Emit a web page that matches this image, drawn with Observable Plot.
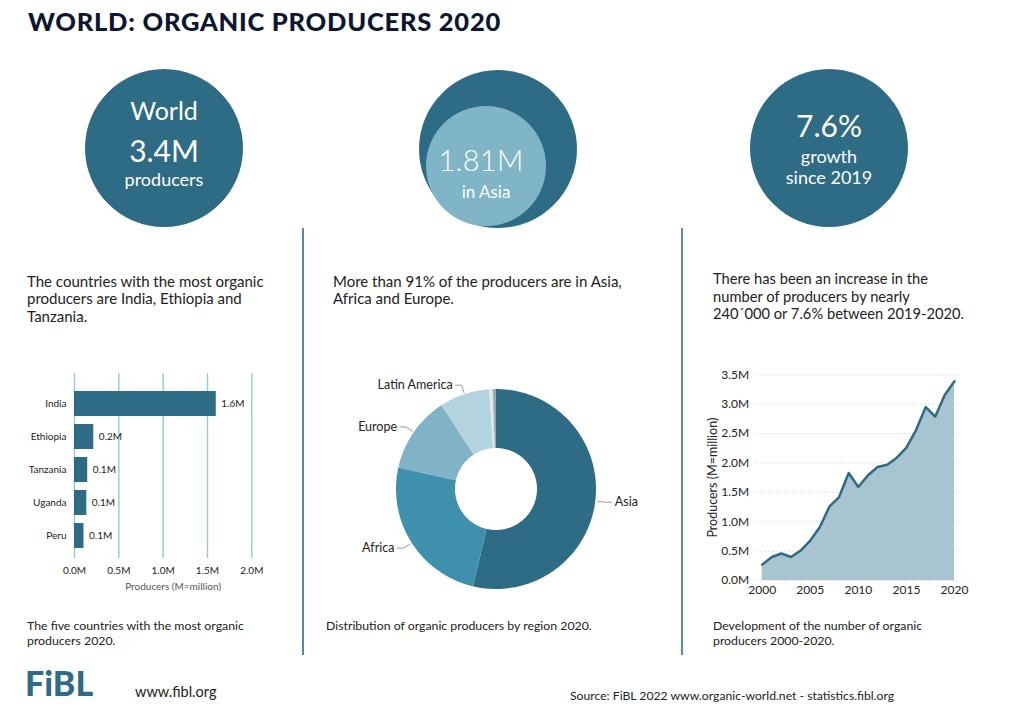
<!DOCTYPE html>
<html><head><meta charset="utf-8">
<script src="https://cdn.jsdelivr.net/npm/d3@7"></script>
<script src="https://cdn.jsdelivr.net/npm/@observablehq/plot@0.6"></script>
<style>
body{margin:0;background:#fff;}
#page{position:relative;width:1024px;height:718px;overflow:hidden;font-family:Lato,"Open Sans",sans-serif;color:#222;background:#fff;}
.t{position:absolute;white-space:nowrap;}
.circle{position:absolute;border-radius:50%;}
.vline{position:absolute;width:1.5px;background:#5b8a9e;}
.chart{position:absolute;}
.chart svg{overflow:visible;}
</style></head><body><div id="page"></div>
<script>
// ---------- data ----------
const countries = ["India", "Ethiopia", "Tanzania", "Uganda", "Peru"];
const countryProducers = [1.599, 0.218, 0.149, 0.139, 0.107]; // million
const countryLabels = ["1.6M", "0.2M", "0.1M", "0.1M", "0.1M"];
const barTicks = [0, 0.5, 1.0, 1.5, 2.0];

const regions = ["Asia", "Africa", "Europe", "Latin America", "Oceania", "Northern America"];
const regionProducers = [1.810, 0.834, 0.418, 0.272, 0.020, 0.017]; // million
const regionColors = ["#2e6b84", "#3f90ad", "#80b3c6", "#b3d3de", "#dbe8ed", "#98a6ad"];
const labeledRegions = ["Asia", "Africa", "Europe", "Latin America"];

const years = [2000, 2001, 2002, 2003, 2004, 2005, 2006, 2007, 2008, 2009, 2010,
               2011, 2012, 2013, 2014, 2015, 2016, 2017, 2018, 2019, 2020];
const worldProducers = [0.27, 0.40, 0.46, 0.40, 0.51, 0.68, 0.91, 1.26, 1.42, 1.83, 1.59,
                        1.79, 1.93, 1.97, 2.09, 2.26, 2.56, 2.95, 2.79, 3.16, 3.39]; // million
const yearTicks = [2000, 2005, 2010, 2015, 2020];
const producerTicks = [0, 0.5, 1.0, 1.5, 2.0, 2.5, 3.0, 3.5];

// ---------- helpers ----------
const page = document.getElementById("page");
const FONT = "Lato, 'Open Sans', sans-serif";
const DARK = "#2e6b84";

function text(str, x, baseline, size, o = {}) {
  const d = document.createElement("div");
  d.className = "t";
  d.style.fontSize = size + "px";
  d.style.lineHeight = (1.2 * size) + "px";
  d.style.top = (baseline - 0.987 * size) + "px";
  if (o.center != null) {
    d.style.left = (o.center - 200) + "px";
    d.style.width = "400px";
    d.style.textAlign = "center";
  } else d.style.left = x + "px";
  if (o.weight) d.style.fontWeight = o.weight;
  if (o.color) d.style.color = o.color;
  if (o.ls) d.style.letterSpacing = o.ls;
  d.textContent = str;
  page.appendChild(d);
  return d;
}
function lines(arr, x, baseline, size, lh, o = {}) {
  arr.forEach((s, i) => text(s, x, baseline + i * lh, size, o));
}
function circle(cx, cy, r, color) {
  const d = document.createElement("div");
  d.className = "circle";
  Object.assign(d.style, {left: (cx - r) + "px", top: (cy - r) + "px", width: 2 * r + "px", height: 2 * r + "px", background: color});
  page.appendChild(d);
}
function vline(x, y0, y1) {
  const d = document.createElement("div");
  d.className = "vline";
  Object.assign(d.style, {left: x + "px", top: y0 + "px", height: (y1 - y0) + "px"});
  page.appendChild(d);
}
function place(svg, left, top) {
  const d = document.createElement("div");
  d.className = "chart";
  d.style.left = left + "px";
  d.style.top = top + "px";
  d.appendChild(svg);
  page.appendChild(d);
}

// ---------- title ----------
text("WORLD: ORGANIC PRODUCERS 2020", 28, 31, 25.5, {weight: 900, color: "#0d1630", ls: "0.75px"});

// ---------- circles ----------
circle(164, 148, 79, DARK);
text("World", 0, 120, 25, {center: 164, color: "#fff"});
text("3.4M", 0, 162, 30, {center: 164, color: "#fff"});
text("producers", 0, 187, 18, {center: 164, color: "#fff"});

circle(498, 149, 79, DARK);
circle(486, 166, 60, "#80b4c7");
text("1.81M", 0, 172, 29, {center: 481, color: "#fff", weight: 300, ls: "0.3px"});
text("in Asia", 0, 199, 17, {center: 486, color: "#fff"});

circle(829, 148, 79, DARK);
text("7.6%", 0, 137, 30, {center: 829, color: "#fff"});
text("growth", 0, 164, 18, {center: 829, color: "#fff"});
text("since 2019", 0, 185, 18, {center: 829, color: "#fff"});

// ---------- dividers ----------
vline(302, 228, 655);
vline(681, 228, 655);

// ---------- paragraphs ----------
lines(["The countries with the most organic", "producers are India, Ethiopia and", "Tanzania."], 27, 287, 15, 17.3);
lines(["More than 91% of the producers are in Asia,", "Africa and Europe."], 333, 287, 15, 17.3);
lines(["There has been an increase in the", "number of producers by nearly", "240\u00B4000 or 7.6% between 2019-2020."], 713, 285, 14.7, 17.3);

// ---------- captions ----------
lines(["The five countries with the most organic", "producers 2020."], 27, 631, 12.3, 15);
lines(["Distribution of organic producers by region 2020."], 326, 631, 12.3, 15);
lines(["Development of the number of organic", "producers 2000-2020."], 713, 631, 12.3, 15);

// ---------- footer ----------
text("FiBL", 25, 697, 34, {weight: 900, color: DARK});
text("www.fibl.org", 135, 697, 14.5);
text("Source: FiBL 2022 www.organic-world.net - statistics.fibl.org", 570, 701, 12.2);

// ---------- bar chart ----------
const barData = countries.map((c, i) => ({country: c, value: countryProducers[i], label: countryLabels[i]}));
place(Plot.plot({
  width: 300, height: 240,
  marginLeft: 74, marginRight: 48.7, marginTop: 13, marginBottom: 42,
  style: {fontFamily: FONT, fontSize: "10px", color: "#222", background: "transparent"},
  x: {domain: [0, 2], ticks: barTicks},
  y: {domain: countries, paddingInner: 0.23, paddingOuter: 0, insetTop: 17, insetBottom: 9},
  marks: [
    Plot.gridX(barTicks, {stroke: "#9ccadb", strokeOpacity: 1, strokeWidth: 1.5}),
    Plot.barX(barData, {x: "value", y: "country", fill: DARK}),
    Plot.text(barData, {x: "value", y: "country", text: "label", textAnchor: "start", dx: 5, fontSize: 10, fill: "#222"}),
    Plot.axisY({tickSize: 0, tickPadding: 8, label: null, fontSize: 10}),
    Plot.axisX(barTicks, {tickSize: 0, tickPadding: 8, tickFormat: d => d.toFixed(1) + "M", label: null, fontSize: 10}),
    Plot.text(["Producers (M=million)"], {frameAnchor: "bottom", dy: 31, dx: 10, fill: "#555", fontSize: 10})
  ]
}), 0, 360);

// ---------- donut chart ----------
const innerR = 0.41;
const total = d3.sum(regionProducers);
let acc = 0;
const arcPts = [], slices = [];
regions.forEach((r, i) => {
  const a0 = acc / total * 2 * Math.PI;
  acc += regionProducers[i];
  const a1 = acc / total * 2 * Math.PI;
  slices.push({region: r, mid: (a0 + a1) / 2});
  const n = Math.max(2, Math.ceil((a1 - a0) / (Math.PI / 180)) + 1);
  for (let k = 0; k < n; k++) {
    const a = a0 + (a1 - a0) * k / (n - 1);
    arcPts.push({region: r, ox: Math.sin(a), oy: Math.cos(a), ix: innerR * Math.sin(a), iy: innerR * Math.cos(a)});
  }
});
const leaderPts = [], labelPts = [];
slices.filter(s => labeledRegions.includes(s.region)).forEach(s => {
  const sx = Math.sin(s.mid), cy = Math.cos(s.mid), side = sx >= 0 ? 1 : -1;
  const ex = 1.1 * sx + side * 0.06, ey = 1.1 * cy;
  leaderPts.push({region: s.region, x: 1.02 * sx, y: 1.02 * cy});
  leaderPts.push({region: s.region, x: 1.1 * sx, y: 1.1 * cy});
  leaderPts.push({region: s.region, x: ex, y: ey});
  labelPts.push({region: s.region, x: ex, y: ey, side});
});
place(Plot.plot({
  width: 320, height: 240,
  marginLeft: 56, marginRight: 64, marginTop: 19, marginBottom: 21,
  style: {fontFamily: FONT, fontSize: "12px", color: "#222", background: "transparent"},
  x: {domain: [-1, 1], axis: null},
  y: {domain: [-1, 1], axis: null},
  color: {domain: regions, range: regionColors},
  marks: [
    Plot.area(arcPts, {x1: "ox", y1: "oy", x2: "ix", y2: "iy", z: "region", fill: "region"}),
    Plot.line(leaderPts, {x: "x", y: "y", z: "region", stroke: "#9a9a9a", strokeWidth: 1}),
    Plot.text(labelPts.filter(d => d.side > 0), {x: "x", y: "y", text: "region", textAnchor: "start", dx: 3, fontSize: 12.5, fill: "#222"}),
    Plot.text(labelPts.filter(d => d.side < 0), {x: "x", y: "y", text: "region", textAnchor: "end", dx: -3, fontSize: 12.5, fill: "#222"})
  ]
}), 340, 370);

// ---------- area chart ----------
const series = years.map((y, i) => ({year: y, value: worldProducers[i]}));
place(Plot.plot({
  width: 290, height: 245,
  marginLeft: 66.7, marginRight: 22, marginTop: 14.3, marginBottom: 25,
  style: {fontFamily: FONT, fontSize: "12px", color: "#222", background: "transparent"},
  x: {domain: [2000, 2020], insetLeft: 5, insetRight: 4},
  y: {domain: [0, 3.5]},
  marks: [
    Plot.gridY(producerTicks, {stroke: "#bbb", strokeOpacity: 1, strokeDasharray: "1,3"}),
    Plot.areaY(series, {x: "year", y: "value", fill: "#a9c4d1"}),
    Plot.lineY(series, {x: "year", y: "value", stroke: DARK, strokeWidth: 2.5}),
    Plot.axisX(yearTicks, {tickSize: 0, tickPadding: 5, tickFormat: "d", label: null, fontSize: 12}),
    Plot.axisY(producerTicks, {tickSize: 0, tickPadding: 8, tickFormat: d => d.toFixed(1) + "M", label: null, fontSize: 12}),
    Plot.text(["Producers (M=million)"], {frameAnchor: "left", rotate: -90, dx: -44, textAnchor: "middle", lineAnchor: "middle", fontSize: 12.5, fill: "#222"})
  ]
}), 690, 360);
</script></body></html>
